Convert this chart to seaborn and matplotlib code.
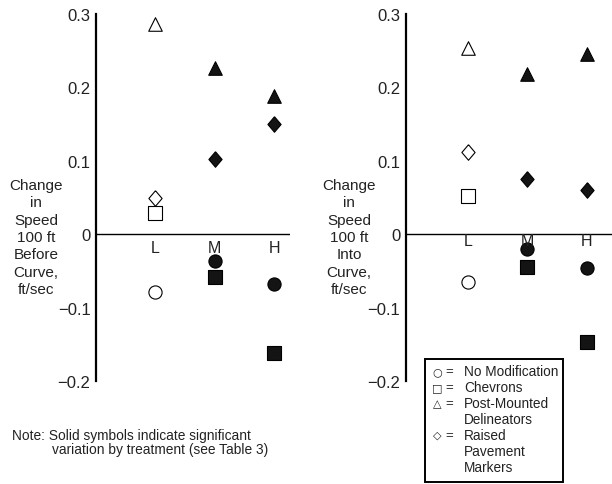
import numpy as np
import pandas as pd
import matplotlib
matplotlib.use('Agg')
import matplotlib.pyplot as plt
import seaborn as sns
from matplotlib.patches import Rectangle

# 데이터
levels = ['L', 'M', 'H']
significant = [False, True, True]

before_none = [-0.079, -0.037, -0.068]
before_chev = [0.029, -0.058, -0.161]
before_pmd = [0.287, 0.227, 0.188]
before_rpm = [0.049, 0.102, 0.150]

into_none = [-0.065, -0.020, -0.046]
into_chev = [0.052, -0.044, -0.147]
into_pmd = [0.254, 0.219, 0.245]
into_rpm = [0.112, 0.076, 0.061]

ytick_vals = [-0.2, -0.1, 0.0, 0.1, 0.2, 0.3]
ytick_labels = ['\u22120.2', '\u22120.1', '0', '0.1', '0.2', '0.3']

legend_rows = [
    ('\u25cb', 'No Modification'),
    ('\u25a1', 'Chevrons'),
    ('\u25b3', 'Post-Mounted\nDelineators'),
    ('\u25c7', 'Raised\nPavement\nMarkers'),
]

sns.set_style('white')
plt.rcParams['font.family'] = ['Liberation Sans', 'DejaVu Sans']
plt.rcParams['axes.unicode_minus'] = True

TXT = '#222222'
diamond = [(0, 1), (0.85, 0), (0, -1), (-0.85, 0), (0, 1)]
marker_style = {
    'none': ('o', 90),
    'chev': ('s', 100),
    'pmd': ('^', 95),
    'rpm': (diamond, 125),
}


def make_frame(none, chev, pmd, rpm):
    rows = []
    for key, vals in [('none', none), ('chev', chev), ('pmd', pmd), ('rpm', rpm)]:
        for i, lv in enumerate(levels):
            rows.append({'treatment': key, 'level': lv, 'pos': i,
                         'change': vals[i], 'sig': significant[i]})
    return pd.DataFrame(rows)


def draw_panel(ax, df, label_offset):
    for key, (mk, sz) in marker_style.items():
        for sig in [False, True]:
            sub = df[(df['treatment'] == key) & (df['sig'] == sig)]
            face = '#141414' if sig else 'white'
            sns.scatterplot(data=sub, x='pos', y='change', ax=ax, marker=mk, s=sz,
                            color=face, edgecolor='black', linewidth=0.8,
                            zorder=3, clip_on=False, legend=False)
    ax.axhline(0, color='black', lw=1.0, zorder=1)
    for i, lv in enumerate(levels):
        ax.annotate(lv, (i, 0), xytext=(0, label_offset), textcoords='offset points',
                    ha='center', va='top', fontsize=11.5, color=TXT)
    ax.set_ylim(-0.2, 0.3)
    ax.set_yticks(ytick_vals)
    ax.set_yticklabels(ytick_labels)
    ax.set_xticks([])
    ax.set_xlabel('')
    ax.set_ylabel('')
    for s in ['top', 'right', 'bottom']:
        ax.spines[s].set_visible(False)
    ax.spines['left'].set_linewidth(1.6)
    ax.spines['left'].set_color('black')
    ax.tick_params(axis='y', direction='in', length=8, width=1.1, labelsize=12,
                   pad=4, colors='black', labelcolor=TXT)
    ax.patch.set_alpha(0)


fig = plt.figure(figsize=(6.12, 4.85), dpi=100)

ax1 = fig.add_axes([0.157, 0.212, 0.317, 0.757])
ax1.set_xlim(-0.99, 2.27)
draw_panel(ax1, make_frame(before_none, before_chev, before_pmd, before_rpm), -4)

ax2 = fig.add_axes([0.663, 0.212, 0.337, 0.757])
ax2.set_xlim(-1.04, 2.42)
draw_panel(ax2, make_frame(into_none, into_chev, into_pmd, into_rpm), 1)

# y축 제목
fig.text(36 / 612, 1 - 238 / 485,
         'Change\nin\nSpeed\n100 ft\nBefore\nCurve,\nft/sec',
         ha='center', va='center', fontsize=11, linespacing=1.3, color=TXT)
fig.text(349 / 612, 1 - 238 / 485,
         'Change\nin\nSpeed\n100 ft\nInto\nCurve,\nft/sec',
         ha='center', va='center', fontsize=11, linespacing=1.3, color=TXT)

# 주석
fig.text(12 / 612, 1 - 436 / 485, 'Note: Solid symbols indicate significant',
         ha='left', va='center', fontsize=9.9, color=TXT)
fig.text(52 / 612, 1 - 450 / 485, 'variation by treatment (see Table 3)',
         ha='left', va='center', fontsize=9.9, color=TXT)

# 범례 상자
fig.patches.append(Rectangle((425 / 612, 1 - 483 / 485), 138 / 612, 123 / 485,
                             transform=fig.transFigure, fill=True, facecolor='white',
                             edgecolor='black', lw=1.4, zorder=5))
y = 372
for sym, lab in legend_rows:
    fig.text(437 / 612, 1 - y / 485, sym, ha='center', va='center', fontsize=8,
             family=['DejaVu Sans'], color=TXT, zorder=6)
    fig.text(449 / 612, 1 - y / 485, '=', ha='center', va='center', fontsize=9.5,
             color=TXT, zorder=6)
    parts = lab.split('\n')
    for j, part in enumerate(parts):
        fig.text(464 / 612, 1 - (y + 16 * j) / 485, part, ha='left', va='center',
                 fontsize=9.8, color=TXT, zorder=6)
    y += 16 * len(parts)

fig.savefig('out.png', dpi=100)
